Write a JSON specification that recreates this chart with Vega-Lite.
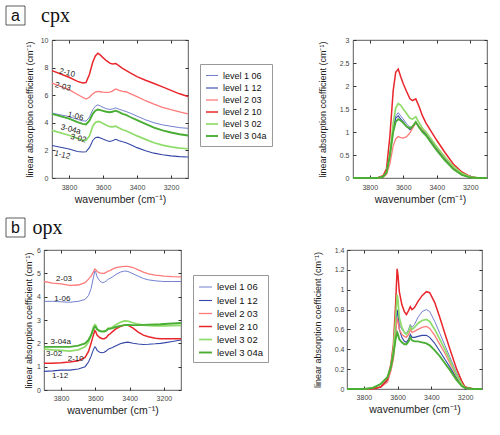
{
  "$schema": "https://vega.github.io/schema/vega-lite/v6.json",
  "padding": {"left": 5, "top": 5, "right": 5, "bottom": 5},
  "background": "white",
  "config": {
    "view": {"stroke": "#333", "strokeWidth": 0.8},
    "axis": {"labelFont": "Liberation Sans", "labelFontSize": 7, "labelColor": "#444", "titleFont": "Liberation Sans", "titleFontSize": 9, "titleFontWeight": "normal", "titleColor": "#222", "tickColor": "#333", "tickSize": -3, "domain": false, "grid": false},
    "legend": {"labelFont": "Liberation Sans", "labelColor": "#111"}
  },
  "datasets": {
    "series": [{"s":"level 1 06"},{"s":"level 1 12"},{"s":"level 2 03"},{"s":"level 2 10"},{"s":"level 3 02"},{"s":"level 3 04a"}],
    "cpxL": [
      {"w":3900,"level 1 06":4.7,"level 1 12":2.36,"level 2 03":6.87,"level 2 10":7.78,"level 3 02":3.45,"level 3 04a":4.65},
      {"w":3800,"level 1 06":4.45,"level 1 12":2.1,"level 2 03":6.4,"level 2 10":7.3,"level 3 02":3.1,"level 3 04a":4.3},
      {"w":3750,"level 1 06":4.25,"level 1 12":1.92,"level 2 03":6.05,"level 2 10":7.0,"level 3 02":2.88,"level 3 04a":4.05},
      {"w":3720,"level 1 06":4.15,"level 1 12":1.88,"level 2 03":5.85,"level 2 10":6.88,"level 3 02":2.75,"level 3 04a":3.92},
      {"w":3700,"level 1 06":4.12,"level 1 12":1.9,"level 2 03":5.72,"level 2 10":6.92,"level 3 02":2.72,"level 3 04a":3.88},
      {"w":3680,"level 1 06":4.4,"level 1 12":2.2,"level 2 03":5.85,"level 2 10":7.5,"level 3 02":3.05,"level 3 04a":4.15},
      {"w":3660,"level 1 06":4.95,"level 1 12":2.72,"level 2 03":6.1,"level 2 10":8.4,"level 3 02":3.75,"level 3 04a":4.65},
      {"w":3645,"level 1 06":5.2,"level 1 12":2.92,"level 2 03":6.22,"level 2 10":8.85,"level 3 02":4.02,"level 3 04a":4.88},
      {"w":3630,"level 1 06":5.3,"level 1 12":2.96,"level 2 03":6.27,"level 2 10":9.04,"level 3 02":4.1,"level 3 04a":4.96},
      {"w":3615,"level 1 06":5.22,"level 1 12":2.9,"level 2 03":6.25,"level 2 10":8.9,"level 3 02":4.05,"level 3 04a":4.92},
      {"w":3600,"level 1 06":5.12,"level 1 12":2.82,"level 2 03":6.22,"level 2 10":8.72,"level 3 02":3.95,"level 3 04a":4.87},
      {"w":3580,"level 1 06":5.02,"level 1 12":2.72,"level 2 03":6.2,"level 2 10":8.5,"level 3 02":3.82,"level 3 04a":4.8},
      {"w":3560,"level 1 06":4.97,"level 1 12":2.65,"level 2 03":6.22,"level 2 10":8.32,"level 3 02":3.72,"level 3 04a":4.77},
      {"w":3545,"level 1 06":5.0,"level 1 12":2.7,"level 2 03":6.3,"level 2 10":8.27,"level 3 02":3.7,"level 3 04a":4.8},
      {"w":3525,"level 1 06":5.08,"level 1 12":2.8,"level 2 03":6.45,"level 2 10":8.3,"level 3 02":3.75,"level 3 04a":4.88},
      {"w":3505,"level 1 06":4.98,"level 1 12":2.7,"level 2 03":6.35,"level 2 10":8.12,"level 3 02":3.62,"level 3 04a":4.77},
      {"w":3485,"level 1 06":4.9,"level 1 12":2.62,"level 2 03":6.28,"level 2 10":7.95,"level 3 02":3.5,"level 3 04a":4.65},
      {"w":3465,"level 1 06":4.82,"level 1 12":2.55,"level 2 03":6.25,"level 2 10":7.8,"level 3 02":3.42,"level 3 04a":4.57},
      {"w":3440,"level 1 06":4.7,"level 1 12":2.42,"level 2 03":6.12,"level 2 10":7.62,"level 3 02":3.28,"level 3 04a":4.42},
      {"w":3400,"level 1 06":4.48,"level 1 12":2.2,"level 2 03":5.9,"level 2 10":7.35,"level 3 02":3.05,"level 3 04a":4.2},
      {"w":3350,"level 1 06":4.22,"level 1 12":1.98,"level 2 03":5.6,"level 2 10":7.08,"level 3 02":2.8,"level 3 04a":3.92},
      {"w":3300,"level 1 06":4.0,"level 1 12":1.8,"level 2 03":5.35,"level 2 10":6.85,"level 3 02":2.55,"level 3 04a":3.65},
      {"w":3250,"level 1 06":3.85,"level 1 12":1.68,"level 2 03":5.12,"level 2 10":6.6,"level 3 02":2.38,"level 3 04a":3.45},
      {"w":3200,"level 1 06":3.75,"level 1 12":1.6,"level 2 03":4.95,"level 2 10":6.35,"level 3 02":2.25,"level 3 04a":3.3},
      {"w":3150,"level 1 06":3.65,"level 1 12":1.55,"level 2 03":4.8,"level 2 10":6.1,"level 3 02":2.17,"level 3 04a":3.17},
      {"w":3100,"level 1 06":3.6,"level 1 12":1.52,"level 2 03":4.65,"level 2 10":5.9,"level 3 02":2.12,"level 3 04a":3.08}
    ],
    "cpxR": [
      {"w":3900,"level 1 06":0,"level 1 12":0,"level 2 03":0,"level 2 10":0,"level 3 02":0,"level 3 04a":0},
      {"w":3800,"level 1 06":0,"level 1 12":0,"level 2 03":0,"level 2 10":0,"level 3 02":0,"level 3 04a":0},
      {"w":3750,"level 1 06":0,"level 1 12":0,"level 2 03":0,"level 2 10":0.01,"level 3 02":0,"level 3 04a":0},
      {"w":3720,"level 1 06":0.03,"level 1 12":0.03,"level 2 03":0.02,"level 2 10":0.05,"level 3 02":0.03,"level 3 04a":0.03},
      {"w":3700,"level 1 06":0.12,"level 1 12":0.12,"level 2 03":0.08,"level 2 10":0.2,"level 3 02":0.12,"level 3 04a":0.12},
      {"w":3680,"level 1 06":0.5,"level 1 12":0.5,"level 2 03":0.3,"level 2 10":0.9,"level 3 02":0.5,"level 3 04a":0.48},
      {"w":3660,"level 1 06":1.1,"level 1 12":1.05,"level 2 03":0.7,"level 2 10":1.9,"level 3 02":1.2,"level 3 04a":1.0},
      {"w":3645,"level 1 06":1.35,"level 1 12":1.3,"level 2 03":0.85,"level 2 10":2.3,"level 3 02":1.52,"level 3 04a":1.22},
      {"w":3630,"level 1 06":1.42,"level 1 12":1.35,"level 2 03":0.9,"level 2 10":2.37,"level 3 02":1.62,"level 3 04a":1.28},
      {"w":3615,"level 1 06":1.35,"level 1 12":1.28,"level 2 03":0.88,"level 2 10":2.2,"level 3 02":1.58,"level 3 04a":1.25},
      {"w":3600,"level 1 06":1.28,"level 1 12":1.22,"level 2 03":0.87,"level 2 10":2.05,"level 3 02":1.5,"level 3 04a":1.2},
      {"w":3580,"level 1 06":1.18,"level 1 12":1.12,"level 2 03":0.9,"level 2 10":1.88,"level 3 02":1.4,"level 3 04a":1.12},
      {"w":3560,"level 1 06":1.1,"level 1 12":1.05,"level 2 03":0.98,"level 2 10":1.72,"level 3 02":1.3,"level 3 04a":1.08},
      {"w":3545,"level 1 06":1.12,"level 1 12":1.1,"level 2 03":1.08,"level 2 10":1.68,"level 3 02":1.28,"level 3 04a":1.12},
      {"w":3525,"level 1 06":1.22,"level 1 12":1.2,"level 2 03":1.2,"level 2 10":1.72,"level 3 02":1.33,"level 3 04a":1.22},
      {"w":3505,"level 1 06":1.12,"level 1 12":1.1,"level 2 03":1.12,"level 2 10":1.55,"level 3 02":1.2,"level 3 04a":1.1},
      {"w":3485,"level 1 06":1.05,"level 1 12":1.03,"level 2 03":1.05,"level 2 10":1.35,"level 3 02":1.08,"level 3 04a":1.0},
      {"w":3465,"level 1 06":0.98,"level 1 12":0.97,"level 2 03":1.0,"level 2 10":1.2,"level 3 02":1.0,"level 3 04a":0.93},
      {"w":3440,"level 1 06":0.85,"level 1 12":0.83,"level 2 03":0.87,"level 2 10":1.05,"level 3 02":0.88,"level 3 04a":0.8},
      {"w":3400,"level 1 06":0.65,"level 1 12":0.63,"level 2 03":0.67,"level 2 10":0.82,"level 3 02":0.68,"level 3 04a":0.6},
      {"w":3350,"level 1 06":0.42,"level 1 12":0.4,"level 2 03":0.44,"level 2 10":0.55,"level 3 02":0.45,"level 3 04a":0.38},
      {"w":3300,"level 1 06":0.22,"level 1 12":0.2,"level 2 03":0.24,"level 2 10":0.3,"level 3 02":0.25,"level 3 04a":0.19},
      {"w":3250,"level 1 06":0.08,"level 1 12":0.07,"level 2 03":0.09,"level 2 10":0.13,"level 3 02":0.1,"level 3 04a":0.07},
      {"w":3200,"level 1 06":0.02,"level 1 12":0.02,"level 2 03":0.02,"level 2 10":0.03,"level 3 02":0.02,"level 3 04a":0.01},
      {"w":3150,"level 1 06":0,"level 1 12":0,"level 2 03":0,"level 2 10":0,"level 3 02":0,"level 3 04a":0},
      {"w":3100,"level 1 06":0,"level 1 12":0,"level 2 03":0,"level 2 10":0,"level 3 02":0,"level 3 04a":0}
    ],
    "opxL": [
      {"w":3900,"level 1 06":3.8,"level 1 12":0.8,"level 2 03":4.65,"level 2 10":1.15,"level 3 02":1.75,"level 3 04a":1.85},
      {"w":3850,"level 1 06":3.8,"level 1 12":0.82,"level 2 03":4.58,"level 2 10":1.15,"level 3 02":1.72,"level 3 04a":1.85},
      {"w":3800,"level 1 06":3.78,"level 1 12":0.85,"level 2 03":4.55,"level 2 10":1.17,"level 3 02":1.7,"level 3 04a":1.85},
      {"w":3750,"level 1 06":3.76,"level 1 12":0.85,"level 2 03":4.48,"level 2 10":1.2,"level 3 02":1.67,"level 3 04a":1.85},
      {"w":3700,"level 1 06":3.8,"level 1 12":0.9,"level 2 03":4.5,"level 2 10":1.25,"level 3 02":1.72,"level 3 04a":1.9},
      {"w":3660,"level 1 06":3.88,"level 1 12":1.0,"level 2 03":4.6,"level 2 10":1.4,"level 3 02":1.85,"level 3 04a":2.0},
      {"w":3640,"level 1 06":4.05,"level 1 12":1.2,"level 2 03":4.75,"level 2 10":1.65,"level 3 02":2.05,"level 3 04a":2.15},
      {"w":3625,"level 1 06":4.35,"level 1 12":1.45,"level 2 03":4.88,"level 2 10":2.0,"level 3 02":2.35,"level 3 04a":2.35},
      {"w":3612,"level 1 06":4.8,"level 1 12":1.72,"level 2 03":5.05,"level 2 10":2.35,"level 3 02":2.7,"level 3 04a":2.6},
      {"w":3603,"level 1 06":5.1,"level 1 12":1.85,"level 2 03":5.18,"level 2 10":2.55,"level 3 02":2.8,"level 3 04a":2.72},
      {"w":3598,"level 1 06":5.05,"level 1 12":1.82,"level 2 03":5.15,"level 2 10":2.5,"level 3 02":2.78,"level 3 04a":2.7},
      {"w":3590,"level 1 06":4.85,"level 1 12":1.7,"level 2 03":5.08,"level 2 10":2.35,"level 3 02":2.62,"level 3 04a":2.6},
      {"w":3575,"level 1 06":4.68,"level 1 12":1.62,"level 2 03":5.02,"level 2 10":2.25,"level 3 02":2.55,"level 3 04a":2.52},
      {"w":3560,"level 1 06":4.6,"level 1 12":1.6,"level 2 03":5.0,"level 2 10":2.2,"level 3 02":2.52,"level 3 04a":2.5},
      {"w":3548,"level 1 06":4.62,"level 1 12":1.62,"level 2 03":5.0,"level 2 10":2.2,"level 3 02":2.52,"level 3 04a":2.5},
      {"w":3535,"level 1 06":4.68,"level 1 12":1.68,"level 2 03":5.05,"level 2 10":2.25,"level 3 02":2.57,"level 3 04a":2.55},
      {"w":3525,"level 1 06":4.75,"level 1 12":1.75,"level 2 03":5.1,"level 2 10":2.35,"level 3 02":2.65,"level 3 04a":2.62},
      {"w":3515,"level 1 06":4.78,"level 1 12":1.78,"level 2 03":5.12,"level 2 10":2.4,"level 3 02":2.65,"level 3 04a":2.62},
      {"w":3500,"level 1 06":4.85,"level 1 12":1.82,"level 2 03":5.18,"level 2 10":2.5,"level 3 02":2.7,"level 3 04a":2.65},
      {"w":3480,"level 1 06":4.95,"level 1 12":1.9,"level 2 03":5.24,"level 2 10":2.62,"level 3 02":2.8,"level 3 04a":2.7},
      {"w":3455,"level 1 06":5.05,"level 1 12":1.98,"level 2 03":5.28,"level 2 10":2.72,"level 3 02":2.9,"level 3 04a":2.75},
      {"w":3430,"level 1 06":5.1,"level 1 12":2.03,"level 2 03":5.3,"level 2 10":2.78,"level 3 02":2.96,"level 3 04a":2.78},
      {"w":3410,"level 1 06":5.08,"level 1 12":2.05,"level 2 03":5.3,"level 2 10":2.78,"level 3 02":2.95,"level 3 04a":2.79},
      {"w":3380,"level 1 06":4.98,"level 1 12":2.0,"level 2 03":5.25,"level 2 10":2.65,"level 3 02":2.88,"level 3 04a":2.78},
      {"w":3350,"level 1 06":4.88,"level 1 12":1.97,"level 2 03":5.15,"level 2 10":2.48,"level 3 02":2.82,"level 3 04a":2.78},
      {"w":3320,"level 1 06":4.78,"level 1 12":1.95,"level 2 03":5.05,"level 2 10":2.35,"level 3 02":2.78,"level 3 04a":2.79},
      {"w":3290,"level 1 06":4.72,"level 1 12":1.96,"level 2 03":4.98,"level 2 10":2.28,"level 3 02":2.76,"level 3 04a":2.8},
      {"w":3250,"level 1 06":4.68,"level 1 12":1.98,"level 2 03":4.92,"level 2 10":2.22,"level 3 02":2.75,"level 3 04a":2.81},
      {"w":3220,"level 1 06":4.66,"level 1 12":2.0,"level 2 03":4.9,"level 2 10":2.2,"level 3 02":2.75,"level 3 04a":2.82},
      {"w":3200,"level 1 06":4.65,"level 1 12":2.02,"level 2 03":4.88,"level 2 10":2.2,"level 3 02":2.75,"level 3 04a":2.83},
      {"w":3150,"level 1 06":4.65,"level 1 12":2.08,"level 2 03":4.86,"level 2 10":2.2,"level 3 02":2.76,"level 3 04a":2.85},
      {"w":3100,"level 1 06":4.65,"level 1 12":2.14,"level 2 03":4.85,"level 2 10":2.2,"level 3 02":2.77,"level 3 04a":2.87}
    ],
    "opxR": [
      {"w":3900,"level 1 06":0,"level 1 12":0,"level 2 03":0,"level 2 10":0,"level 3 02":0,"level 3 04a":0},
      {"w":3850,"level 1 06":0,"level 1 12":0,"level 2 03":0,"level 2 10":0,"level 3 02":0,"level 3 04a":0},
      {"w":3800,"level 1 06":0,"level 1 12":0,"level 2 03":0,"level 2 10":0,"level 3 02":0,"level 3 04a":0},
      {"w":3750,"level 1 06":0,"level 1 12":0,"level 2 03":0,"level 2 10":0,"level 3 02":0.01,"level 3 04a":0.01},
      {"w":3700,"level 1 06":0.02,"level 1 12":0.02,"level 2 03":0.02,"level 2 10":0.02,"level 3 02":0.05,"level 3 04a":0.05},
      {"w":3660,"level 1 06":0.08,"level 1 12":0.08,"level 2 03":0.07,"level 2 10":0.1,"level 3 02":0.12,"level 3 04a":0.12},
      {"w":3640,"level 1 06":0.2,"level 1 12":0.2,"level 2 03":0.18,"level 2 10":0.25,"level 3 02":0.22,"level 3 04a":0.22},
      {"w":3625,"level 1 06":0.35,"level 1 12":0.35,"level 2 03":0.3,"level 2 10":0.45,"level 3 02":0.4,"level 3 04a":0.35},
      {"w":3612,"level 1 06":0.6,"level 1 12":0.6,"level 2 03":0.55,"level 2 10":0.85,"level 3 02":0.7,"level 3 04a":0.5},
      {"w":3603,"level 1 06":0.79,"level 1 12":0.8,"level 2 03":0.72,"level 2 10":1.21,"level 3 02":0.95,"level 3 04a":0.57},
      {"w":3598,"level 1 06":0.75,"level 1 12":0.75,"level 2 03":0.68,"level 2 10":1.15,"level 3 02":0.9,"level 3 04a":0.55},
      {"w":3590,"level 1 06":0.65,"level 1 12":0.6,"level 2 03":0.6,"level 2 10":0.98,"level 3 02":0.72,"level 3 04a":0.5},
      {"w":3575,"level 1 06":0.6,"level 1 12":0.52,"level 2 03":0.55,"level 2 10":0.85,"level 3 02":0.62,"level 3 04a":0.47},
      {"w":3560,"level 1 06":0.57,"level 1 12":0.48,"level 2 03":0.53,"level 2 10":0.78,"level 3 02":0.57,"level 3 04a":0.45},
      {"w":3548,"level 1 06":0.56,"level 1 12":0.47,"level 2 03":0.52,"level 2 10":0.75,"level 3 02":0.55,"level 3 04a":0.45},
      {"w":3535,"level 1 06":0.6,"level 1 12":0.5,"level 2 03":0.55,"level 2 10":0.79,"level 3 02":0.58,"level 3 04a":0.48},
      {"w":3525,"level 1 06":0.65,"level 1 12":0.55,"level 2 03":0.6,"level 2 10":0.83,"level 3 02":0.63,"level 3 04a":0.52},
      {"w":3515,"level 1 06":0.62,"level 1 12":0.52,"level 2 03":0.57,"level 2 10":0.8,"level 3 02":0.6,"level 3 04a":0.49},
      {"w":3500,"level 1 06":0.65,"level 1 12":0.52,"level 2 03":0.58,"level 2 10":0.82,"level 3 02":0.62,"level 3 04a":0.48},
      {"w":3480,"level 1 06":0.72,"level 1 12":0.53,"level 2 03":0.6,"level 2 10":0.88,"level 3 02":0.66,"level 3 04a":0.48},
      {"w":3455,"level 1 06":0.78,"level 1 12":0.54,"level 2 03":0.62,"level 2 10":0.94,"level 3 02":0.69,"level 3 04a":0.47},
      {"w":3430,"level 1 06":0.8,"level 1 12":0.54,"level 2 03":0.63,"level 2 10":0.98,"level 3 02":0.7,"level 3 04a":0.46},
      {"w":3410,"level 1 06":0.78,"level 1 12":0.52,"level 2 03":0.61,"level 2 10":0.97,"level 3 02":0.68,"level 3 04a":0.44},
      {"w":3380,"level 1 06":0.68,"level 1 12":0.46,"level 2 03":0.54,"level 2 10":0.87,"level 3 02":0.6,"level 3 04a":0.39},
      {"w":3350,"level 1 06":0.56,"level 1 12":0.38,"level 2 03":0.45,"level 2 10":0.72,"level 3 02":0.5,"level 3 04a":0.33},
      {"w":3320,"level 1 06":0.44,"level 1 12":0.3,"level 2 03":0.36,"level 2 10":0.56,"level 3 02":0.4,"level 3 04a":0.26},
      {"w":3290,"level 1 06":0.32,"level 1 12":0.22,"level 2 03":0.26,"level 2 10":0.4,"level 3 02":0.29,"level 3 04a":0.19},
      {"w":3250,"level 1 06":0.16,"level 1 12":0.11,"level 2 03":0.13,"level 2 10":0.2,"level 3 02":0.14,"level 3 04a":0.09},
      {"w":3220,"level 1 06":0.06,"level 1 12":0.04,"level 2 03":0.05,"level 2 10":0.08,"level 3 02":0.05,"level 3 04a":0.03},
      {"w":3200,"level 1 06":0.02,"level 1 12":0.01,"level 2 03":0.01,"level 2 10":0.02,"level 3 02":0.01,"level 3 04a":0.01},
      {"w":3150,"level 1 06":0,"level 1 12":0,"level 2 03":0,"level 2 10":0,"level 3 02":0,"level 3 04a":0},
      {"w":3100,"level 1 06":0,"level 1 12":0,"level 2 03":0,"level 2 10":0,"level 3 02":0,"level 3 04a":0}
    ],
    "cpxT": [
      {"t":"2-10","w":3812,"v":7.6},
      {"t":"2-03","w":3837,"v":6.6},
      {"t":"1-06","w":3762,"v":4.45},
      {"t":"3-04a","w":3790,"v":3.5},
      {"t":"3-02","w":3745,"v":2.85},
      {"t":"1-12","w":3840,"v":1.65}
    ],
    "opxT": [
      {"t":"2-03","w":3783,"v":4.76},
      {"t":"1-06","w":3793,"v":3.92},
      {"t":"3-04a","w":3802,"v":2.05},
      {"t":"3-02","w":3841,"v":1.55},
      {"t":"2-10","w":3715,"v":1.33},
      {"t":"1-12","w":3806,"v":0.62}
    ]
  },
  "spacing": 12,
  "resolve": {"scale": {"color": "independent", "strokeWidth": "independent"}, "legend": {"color": "independent", "strokeWidth": "independent"}},
  "vconcat": [
    {
      "spacing": -2,
      "resolve": {"scale": {"color": "independent", "strokeWidth": "independent"}, "legend": {"color": "independent", "strokeWidth": "independent"}},
      "hconcat": [
        {"width": 19, "height": 19, "view": {"stroke": null}, "data": {"values": [{"t": "a"}]},
         "layer": [
           {"mark": {"type": "rect", "filled": false, "color": "#333", "strokeWidth": 0.8}, "encoding": {}},
           {"mark": {"type": "text", "font": "Liberation Sans", "fontSize": 16, "baseline": "middle", "color": "#111"}, "encoding": {"text": {"field": "t"}}}
         ]},
        {
          "spacing": 9,
          "vconcat": [
            {"width": 7, "height": 19, "view": {"stroke": null}, "data": {"values": [{"t": "cpx"}]}, "mark": {"type": "text", "font": "Liberation Serif", "fontSize": 20, "baseline": "middle", "color": "#111"}, "encoding": {"text": {"field": "t"}}},
            {
              "width": 136, "height": 138,
              "resolve": {"axis": {"x": "independent", "y": "independent"}},
              "layer": [
                {
                  "data": {"name": "cpxL"},
                  "transform": [{"fold": ["level 1 06","level 1 12","level 2 03","level 2 10","level 3 02","level 3 04a"], "as": ["s","v"]}],
                  "mark": {"type": "line"},
                  "encoding": {
                    "x": {"field": "w", "type": "quantitative", "scale": {"domain": [3100,3900], "reverse": true, "nice": false, "zero": false}, "axis": {"values": [3200,3400,3600,3800], "format": "d", "title": "wavenumber (cm⁻¹)", "titleFontSize": 10.5, "labelPadding": 8, "titlePadding": 4}},
                    "y": {"field": "v", "type": "quantitative", "scale": {"domain": [0,10], "nice": false}, "axis": {"values": [0,2,4,6,8,10], "title": "linear absorption coefficient (cm⁻¹)", "labelPadding": 7, "titlePadding": 6}},
                    "color": {"field": "s", "type": "nominal", "scale": {"domain": ["level 1 06","level 1 12","level 2 03","level 2 10","level 3 02","level 3 04a"], "range": ["#6272c8","#3447a6","#ff7b7b","#e8262b","#8fdc6a","#4aae35"]}, "legend": null},
                    "strokeWidth": {"field": "s", "type": "nominal", "scale": {"domain": ["level 1 06","level 1 12","level 2 03","level 2 10","level 3 02","level 3 04a"], "range": [0.9,1.9,0.9,1.9,0.9,1.9]}, "legend": null}
                  }
                },
                {
                  "data": {"name": "cpxT"},
                  "mark": {"type": "text", "font": "Liberation Sans", "fontSize": 8, "angle": 14, "color": "#222"},
                  "encoding": {
                    "x": {"field": "w", "type": "quantitative", "scale": {"domain": [3100,3900], "reverse": true, "nice": false, "zero": false}, "axis": {"orient": "top", "values": [3200,3400,3600,3800], "labels": false, "title": null}},
                    "y": {"field": "v", "type": "quantitative", "scale": {"domain": [0,10], "nice": false}, "axis": {"orient": "right", "values": [0,2,4,6,8,10], "labels": false, "title": null}},
                    "text": {"field": "t"}
                  }
                }
              ]
            }
          ]
        },
        {
          "spacing": 0,
          "resolve": {"scale": {"color": "independent", "strokeWidth": "independent"}, "legend": {"color": "independent", "strokeWidth": "independent"}},
          "vconcat": [
            {"width": 124, "height": 57, "view": {"stroke": null}, "data": {"values": []}, "mark": "text", "encoding": {}},
            {"width": 1, "height": 80, "view": {"stroke": null}, "data": {"name": "series"},
             "mark": {"type": "line"},
             "encoding": {
               "color": {"field": "s", "type": "nominal", "scale": {"domain": ["level 1 06","level 1 12","level 2 03","level 2 10","level 3 02","level 3 04a"], "range": ["#6272c8","#3447a6","#ff7b7b","#e8262b","#8fdc6a","#4aae35"]}, "legend": {"orient": "none", "legendX": 5, "legendY": 0, "title": null, "symbolType": "stroke", "symbolSize": 144, "labelFontSize": 9, "rowPadding": 0, "padding": 5, "labelOffset": 4, "strokeColor": "#999", "fillColor": "white"}},
               "strokeWidth": {"field": "s", "type": "nominal", "scale": {"domain": ["level 1 06","level 1 12","level 2 03","level 2 10","level 3 02","level 3 04a"], "range": [0.9,1.9,0.9,1.9,0.9,1.9]}, "legend": {"orient": "none", "legendX": 5, "legendY": 0, "title": null, "symbolType": "stroke", "symbolSize": 144, "labelFontSize": 9, "rowPadding": 0, "padding": 5, "labelOffset": 4, "strokeColor": "#999", "fillColor": "white"}}
             }}
          ]
        },
        {
          "spacing": 9,
          "vconcat": [
            {"width": 10, "height": 20, "view": {"stroke": null}, "data": {"values": []}, "mark": "text", "encoding": {}},
            {
              "width": 134, "height": 138,
              "resolve": {"axis": {"x": "independent", "y": "independent"}},
              "layer": [
                {
                  "data": {"name": "cpxR"},
                  "transform": [{"fold": ["level 1 06","level 1 12","level 2 03","level 2 10","level 3 02","level 3 04a"], "as": ["s","v"]}],
                  "mark": {"type": "line"},
                  "encoding": {
                    "x": {"field": "w", "type": "quantitative", "scale": {"domain": [3100,3900], "reverse": true, "nice": false, "zero": false}, "axis": {"values": [3200,3400,3600,3800], "format": "d", "title": "wavenumber (cm⁻¹)", "titleFontSize": 10.5, "labelPadding": 8, "titlePadding": 4}},
                    "y": {"field": "v", "type": "quantitative", "scale": {"domain": [0,3], "nice": false}, "axis": {"values": [0,0.5,1,1.5,2,2.5,3], "format": "~g", "title": "linear absorption coefficient (cm⁻¹)", "labelPadding": 7, "titlePadding": 12}},
                    "color": {"field": "s", "type": "nominal", "scale": {"domain": ["level 1 06","level 1 12","level 2 03","level 2 10","level 3 02","level 3 04a"], "range": ["#6272c8","#3447a6","#ff7b7b","#e8262b","#8fdc6a","#4aae35"]}, "legend": null},
                    "strokeWidth": {"field": "s", "type": "nominal", "scale": {"domain": ["level 1 06","level 1 12","level 2 03","level 2 10","level 3 02","level 3 04a"], "range": [0.9,1.9,0.9,1.9,0.9,1.9]}, "legend": null}
                  }
                },
                {
                  "data": {"name": "cpxR"},
                  "mark": {"type": "line", "opacity": 0},
                  "encoding": {
                    "x": {"field": "w", "type": "quantitative", "scale": {"domain": [3100,3900], "reverse": true, "nice": false, "zero": false}, "axis": {"orient": "top", "values": [3200,3400,3600,3800], "labels": false, "title": null}},
                    "y": {"field": "level 2 10", "type": "quantitative", "scale": {"domain": [0,3], "nice": false}, "axis": {"orient": "right", "values": [0,0.5,1,1.5,2,2.5,3], "labels": false, "title": null}}
                  }
                }
              ]
            }
          ]
        }
      ]
    },
    {
      "spacing": -2,
      "resolve": {"scale": {"color": "independent", "strokeWidth": "independent"}, "legend": {"color": "independent", "strokeWidth": "independent"}},
      "hconcat": [
        {"width": 19, "height": 19, "view": {"stroke": null}, "data": {"values": [{"t": "b"}]},
         "layer": [
           {"mark": {"type": "rect", "filled": false, "color": "#333", "strokeWidth": 0.8}, "encoding": {}},
           {"mark": {"type": "text", "font": "Liberation Sans", "fontSize": 16, "baseline": "middle", "color": "#111"}, "encoding": {"text": {"field": "t"}}}
         ]},
        {
          "spacing": 7,
          "vconcat": [
            {"width": 7, "height": 19, "view": {"stroke": null}, "data": {"values": [{"t": "opx"}]}, "mark": {"type": "text", "font": "Liberation Serif", "fontSize": 20, "baseline": "middle", "color": "#111"}, "encoding": {"text": {"field": "t"}}},
            {
              "width": 137, "height": 140,
              "resolve": {"axis": {"x": "independent", "y": "independent"}},
              "layer": [
                {
                  "data": {"name": "opxL"},
                  "transform": [{"fold": ["level 1 06","level 1 12","level 2 03","level 2 10","level 3 02","level 3 04a"], "as": ["s","v"]}],
                  "mark": {"type": "line"},
                  "encoding": {
                    "x": {"field": "w", "type": "quantitative", "scale": {"domain": [3100,3900], "reverse": true, "nice": false, "zero": false}, "axis": {"values": [3200,3400,3600,3800], "format": "d", "title": "wavenumber (cm⁻¹)", "titleFontSize": 10.5, "labelPadding": 7, "titlePadding": 4}},
                    "y": {"field": "v", "type": "quantitative", "scale": {"domain": [0,6], "nice": false}, "axis": {"values": [0,1,2,3,4,5,6], "title": "linear absorption coefficient (cm⁻¹)", "labelPadding": 6.5, "titlePadding": 3}},
                    "color": {"field": "s", "type": "nominal", "scale": {"domain": ["level 1 06","level 1 12","level 2 03","level 2 10","level 3 02","level 3 04a"], "range": ["#6272c8","#3447a6","#ff7b7b","#e8262b","#8fdc6a","#4aae35"]}, "legend": null},
                    "strokeWidth": {"field": "s", "type": "nominal", "scale": {"domain": ["level 1 06","level 1 12","level 2 03","level 2 10","level 3 02","level 3 04a"], "range": [0.9,1.9,0.9,1.9,0.9,1.9]}, "legend": null}
                  }
                },
                {
                  "data": {"name": "opxT"},
                  "mark": {"type": "text", "font": "Liberation Sans", "fontSize": 8, "color": "#222"},
                  "encoding": {
                    "x": {"field": "w", "type": "quantitative", "scale": {"domain": [3100,3900], "reverse": true, "nice": false, "zero": false}, "axis": {"orient": "top", "values": [3200,3400,3600,3800], "labels": false, "title": null}},
                    "y": {"field": "v", "type": "quantitative", "scale": {"domain": [0,6], "nice": false}, "axis": {"orient": "right", "values": [0,1,2,3,4,5,6], "labels": false, "title": null}},
                    "text": {"field": "t"}
                  }
                }
              ]
            }
          ]
        },
        {
          "spacing": 0,
          "resolve": {"scale": {"color": "independent", "strokeWidth": "independent"}, "legend": {"color": "independent", "strokeWidth": "independent"}},
          "vconcat": [
            {"width": 126, "height": 56, "view": {"stroke": null}, "data": {"values": []}, "mark": "text", "encoding": {}},
            {"width": 1, "height": 90, "view": {"stroke": null}, "data": {"name": "series"},
             "mark": {"type": "line"},
             "encoding": {
               "color": {"field": "s", "type": "nominal", "scale": {"domain": ["level 1 06","level 1 12","level 2 03","level 2 10","level 3 02","level 3 04a"], "range": ["#6272c8","#3447a6","#ff7b7b","#e8262b","#8fdc6a","#4aae35"]}, "legend": {"orient": "none", "legendX": 5, "legendY": 0, "title": null, "symbolType": "stroke", "symbolSize": 169, "labelFontSize": 9.5, "rowPadding": 1, "padding": 5, "labelOffset": 4, "strokeColor": "#999", "fillColor": "white"}},
               "strokeWidth": {"field": "s", "type": "nominal", "scale": {"domain": ["level 1 06","level 1 12","level 2 03","level 2 10","level 3 02","level 3 04a"], "range": [0.9,1.9,0.9,1.9,0.9,1.9]}, "legend": {"orient": "none", "legendX": 5, "legendY": 0, "title": null, "symbolType": "stroke", "symbolSize": 169, "labelFontSize": 9.5, "rowPadding": 1, "padding": 5, "labelOffset": 4, "strokeColor": "#999", "fillColor": "white"}}
             }}
          ]
        },
        {
          "spacing": 7,
          "vconcat": [
            {"width": 10, "height": 20, "view": {"stroke": null}, "data": {"values": []}, "mark": "text", "encoding": {}},
            {
              "width": 135, "height": 139,
              "resolve": {"axis": {"x": "independent", "y": "independent"}},
              "layer": [
                {
                  "data": {"name": "opxR"},
                  "transform": [{"fold": ["level 1 06","level 1 12","level 2 03","level 2 10","level 3 02","level 3 04a"], "as": ["s","v"]}],
                  "mark": {"type": "line"},
                  "encoding": {
                    "x": {"field": "w", "type": "quantitative", "scale": {"domain": [3100,3900], "reverse": true, "nice": false, "zero": false}, "axis": {"values": [3200,3400,3600,3800], "format": "d", "title": "wavenumber (cm⁻¹)", "titleFontSize": 10.5, "labelPadding": 7, "titlePadding": 4}},
                    "y": {"field": "v", "type": "quantitative", "scale": {"domain": [0,1.4], "nice": false}, "axis": {"values": [0,0.2,0.4,0.6,0.8,1,1.2,1.4], "format": "~g", "title": "linear absorption coefficient (cm⁻¹)", "labelPadding": 6, "titlePadding": 12}},
                    "color": {"field": "s", "type": "nominal", "scale": {"domain": ["level 1 06","level 1 12","level 2 03","level 2 10","level 3 02","level 3 04a"], "range": ["#6272c8","#3447a6","#ff7b7b","#e8262b","#8fdc6a","#4aae35"]}, "legend": null},
                    "strokeWidth": {"field": "s", "type": "nominal", "scale": {"domain": ["level 1 06","level 1 12","level 2 03","level 2 10","level 3 02","level 3 04a"], "range": [0.9,1.9,0.9,1.9,0.9,1.9]}, "legend": null}
                  }
                },
                {
                  "data": {"name": "opxR"},
                  "mark": {"type": "line", "opacity": 0},
                  "encoding": {
                    "x": {"field": "w", "type": "quantitative", "scale": {"domain": [3100,3900], "reverse": true, "nice": false, "zero": false}, "axis": {"orient": "top", "values": [3200,3400,3600,3800], "labels": false, "title": null}},
                    "y": {"field": "level 2 10", "type": "quantitative", "scale": {"domain": [0,1.4], "nice": false}, "axis": {"orient": "right", "values": [0,0.2,0.4,0.6,0.8,1,1.2,1.4], "labels": false, "title": null}}
                  }
                }
              ]
            }
          ]
        }
      ]
    }
  ]
}
